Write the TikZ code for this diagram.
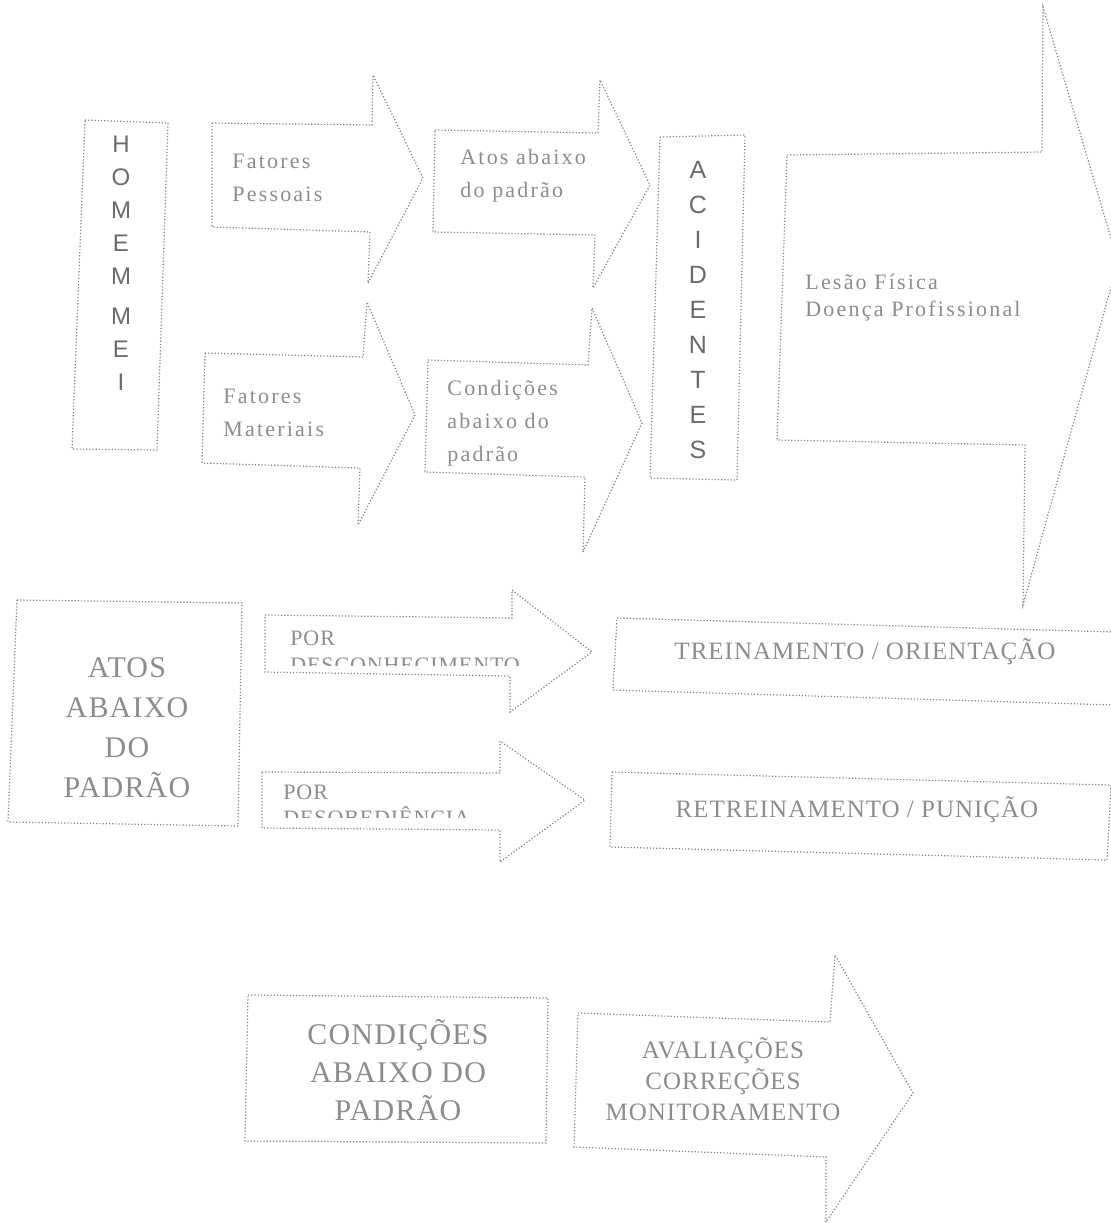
\documentclass[tikz,border=0pt]{standalone}
\usepackage{fontspec}
\setmainfont{Liberation Serif}
\newfontfamily\scanfont[LetterSpace=10]{Liberation Serif}
\newfontfamily\capsfont[LetterSpace=4]{Liberation Serif}
\newfontfamily\stackfont{Liberation Sans}
\definecolor{inkline}{gray}{0.5}
\definecolor{inktext}{gray}{0.55}
\definecolor{inkdark}{gray}{0.42}
\tikzset{
  outline/.style={draw=inkline, densely dotted, line width=0.6pt},
  smalltext/.style={text=inktext, font=\scanfont\fontsize{11}{16.5}\selectfont, align=left, inner sep=0pt},
  capstext/.style={text=inktext, font=\capsfont\fontsize{15}{20}\selectfont, align=center, inner sep=0pt},
  stacktext/.style={text=inkdark, font=\stackfont\fontsize{12}{16.5}\selectfont, align=center, inner sep=0pt}
}

\begin{document}
\begin{tikzpicture}[x=0.5pt,y=-0.5pt]
  \useasboundingbox (0,0) rectangle (1111,1223);

  % Chain of causes
  \draw[outline] (85,120) -- (168,123) -- (157,450) -- (72,449) -- cycle;
  \node[stacktext] (homem) at (121,263) {H\\O\\M\\E\\M\\[3.5pt]M\\E\\I};

  \draw[outline] (212,123) -- (372,125) -- (373,75) -- (423,178) -- (368,283) -- (370,232) -- (212,227) -- cycle;
  \node[smalltext,anchor=west] (pessoais) at (232,178) {Fatores\\Pessoais};

  \draw[outline] (205,353) -- (363,357) -- (367,302) -- (415,415) -- (358,525) -- (360,468) -- (202,463) -- cycle;
  \node[smalltext,anchor=west] (materiais) at (223,413) {Fatores\\Materiais};

  \draw[outline] (435,130) -- (598,133) -- (600,80) -- (650,185) -- (593,288) -- (595,235) -- (433,232) -- cycle;
  \node[smalltext,anchor=west] (atos) at (460,176) {Atos abaixo\\do padrão};

  \draw[outline] (428,360) -- (588,365) -- (592,308) -- (642,423) -- (583,552) -- (585,477) -- (425,472) -- cycle;
  \node[smalltext,anchor=west] (condicoes) at (447,423) {Condições\\abaixo do\\padrão};

  \draw[outline] (660,137) -- (745,135) -- (737,480) -- (650,478) -- cycle;
  \node[stacktext,font=\stackfont\fontsize{12.5}{17.5}\selectfont] (acidentes) at (698,310) {A\\C\\I\\D\\E\\N\\T\\E\\S};

  \draw[outline] (787,155) -- (1042,152) -- (1043,7) -- (1118,262) -- (1023,605) -- (1025,445) -- (777,440) -- cycle;
  \node[smalltext,anchor=west,font=\scanfont\fontsize{11}{13.5}\selectfont] (lesao) at (805,298) {Lesão Física\\Doença Profissional};

  % Acts below standard
  \draw[outline] (17,600) -- (242,603) -- (238,826) -- (8,822) -- cycle;
  \node[capstext] (atosbox) at (127,728) {ATOS\\ABAIXO\\DO\\PADRÃO};

  \draw[outline] (265,615) -- (512,618) -- (512,590) -- (592,652) -- (510,712) -- (510,676) -- (265,672) -- cycle;
  \node[smalltext,font=\capsfont\fontsize{11}{16.5}\selectfont,anchor=west] (por1) at (290,638) {POR};
  \begin{scope}
    \clip (260,640) rectangle (600,665);
    \node[smalltext,font=\capsfont\fontsize{11}{16.5}\selectfont,anchor=base west] (desconhec) at (290,672) {DESCONHECIMENTO};
  \end{scope}

  \draw[outline] (262,772) -- (500,773) -- (500,741) -- (585,800) -- (500,862) -- (500,830) -- (262,828) -- cycle;
  \node[smalltext,font=\capsfont\fontsize{11}{16.5}\selectfont,anchor=west] (por2) at (283,792) {POR};
  \begin{scope}
    \clip (260,800) rectangle (600,817);
    \node[smalltext,font=\capsfont\fontsize{11}{16.5}\selectfont,anchor=base west] (desobed) at (283,825) {DESOBEDIÊNCIA};
  \end{scope}

  \draw[outline] (617,618) -- (1115,632) -- (1115,705) -- (613,690) -- cycle;
  \node[capstext,font=\capsfont\fontsize{12.5}{16}\selectfont] (treino) at (865,652) {TREINAMENTO / ORIENTAÇÃO};

  \draw[outline] (612,772) -- (1111,785) -- (1107,860) -- (610,847) -- cycle;
  \node[capstext,font=\capsfont\fontsize{12.5}{16}\selectfont] (retreino) at (857,810) {RETREINAMENTO / PUNIÇÃO};

  % Conditions below standard
  \draw[outline] (248,995) -- (548,998) -- (546,1143) -- (245,1141) -- cycle;
  \node[capstext,font=\capsfont\fontsize{15}{19}\selectfont] (condbox) at (398,1070) {CONDIÇÕES\\ABAIXO DO\\PADRÃO};

  \draw[outline] (578,1013) -- (830,1022) -- (835,955) -- (913,1093) -- (826,1222) -- (826,1157) -- (574,1147) -- cycle;
  \node[capstext,font=\capsfont\fontsize{12.5}{15.5}\selectfont] (avaliacoes) at (723,1079) {AVALIAÇÕES\\CORREÇÕES\\MONITORAMENTO};
\end{tikzpicture}
\end{document}
